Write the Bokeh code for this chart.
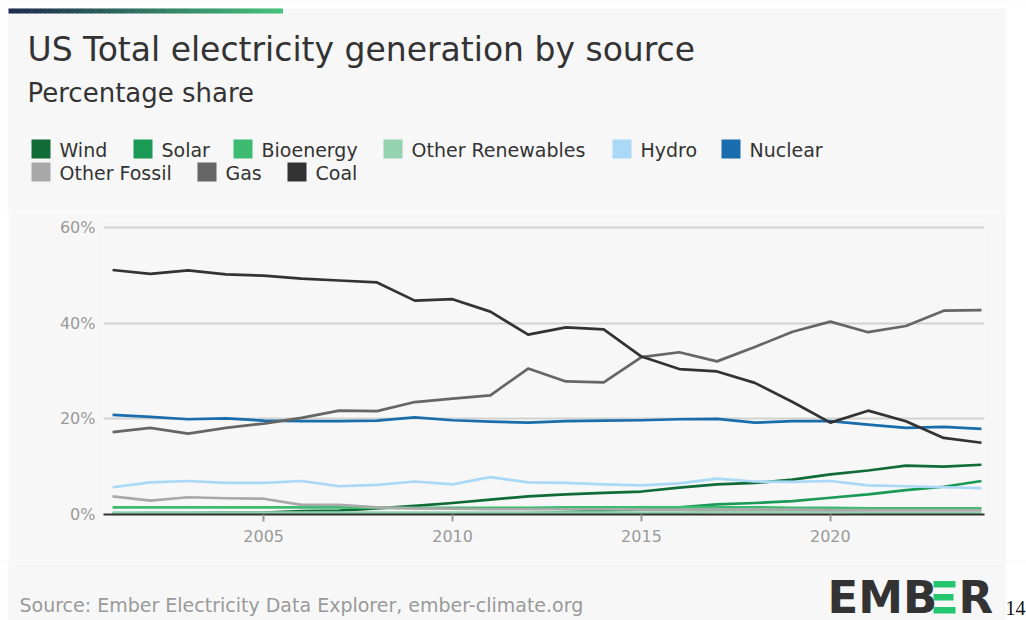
from bokeh.plotting import figure
from bokeh.layouts import column, row
from bokeh.models import Range1d, FixedTicker, PrintfTickFormatter, Label, Spacer
from bokeh.embed import file_html
from bokeh.resources import INLINE

# ---------------- data (percentage share) ----------------
years = list(range(2001, 2025))
wind = [0.2, 0.3, 0.3, 0.4, 0.4, 0.7, 0.8, 1.3, 1.8, 2.4, 3.1, 3.8, 4.2, 4.5, 4.8, 5.6, 6.3, 6.6, 7.3, 8.4, 9.2, 10.2, 10.0, 10.4]
solar = [0.0, 0.0, 0.0, 0.0, 0.0, 0.0, 0.0, 0.0, 0.0, 0.1, 0.1, 0.3, 0.5, 0.8, 1.0, 1.5, 2.1, 2.4, 2.8, 3.5, 4.2, 5.1, 5.8, 7.0]
bioenergy = [1.5, 1.5, 1.5, 1.5, 1.5, 1.5, 1.5, 1.4, 1.4, 1.4, 1.4, 1.4, 1.5, 1.5, 1.5, 1.5, 1.5, 1.5, 1.4, 1.4, 1.3, 1.3, 1.3, 1.3]
other_renewables = [0.4, 0.4, 0.4, 0.4, 0.4, 0.4, 0.4, 0.4, 0.4, 0.4, 0.4, 0.4, 0.4, 0.4, 0.4, 0.4, 0.5, 0.5, 0.5, 0.5, 0.4, 0.4, 0.4, 0.4]
hydro = [5.7, 6.7, 7.0, 6.6, 6.6, 7.0, 5.9, 6.2, 6.9, 6.3, 7.8, 6.7, 6.6, 6.3, 6.1, 6.5, 7.5, 6.9, 6.8, 7.0, 6.1, 5.9, 5.7, 5.5]
nuclear = [20.8, 20.4, 19.9, 20.1, 19.6, 19.5, 19.5, 19.6, 20.3, 19.7, 19.4, 19.2, 19.5, 19.6, 19.7, 19.9, 20.0, 19.2, 19.5, 19.5, 18.8, 18.1, 18.3, 17.9]
other_fossil = [3.8, 2.9, 3.6, 3.4, 3.3, 2.0, 2.0, 1.5, 1.3, 1.2, 1.1, 1.1, 1.1, 1.1, 1.0, 1.0, 1.0, 1.0, 1.0, 0.9, 0.9, 0.9, 0.9, 0.9]
gas = [17.2, 18.1, 16.9, 18.1, 19.0, 20.2, 21.7, 21.6, 23.5, 24.2, 24.9, 30.5, 27.8, 27.6, 32.9, 33.9, 32.0, 35.0, 38.2, 40.3, 38.1, 39.4, 42.6, 42.7]
coal = [51.1, 50.3, 51.0, 50.2, 49.9, 49.3, 48.9, 48.5, 44.7, 45.0, 42.4, 37.6, 39.1, 38.7, 33.0, 30.4, 29.9, 27.5, 23.5, 19.2, 21.7, 19.5, 16.0, 15.0]

series_names = ["Wind", "Solar", "Bioenergy", "Other Renewables", "Hydro", "Nuclear",
                "Other Fossil", "Gas", "Coal"]
series_values = [wind, solar, bioenergy, other_renewables, hydro, nuclear, other_fossil, gas, coal]
series_colors = ["#106b37", "#1b9a56", "#3dbb70", "#94d2b0", "#a9d9f6", "#1a6dac",
                 "#a9a9a9", "#666666", "#333333"]

x_ticks = [2005, 2010, 2015, 2020]
y_ticks = [0, 20, 40, 60]

title_text = "US Total electricity generation by source"
subtitle_text = "Percentage share"
source_text = "Source: Ember Electricity Data Explorer, ember-climate.org"

FONT = "DejaVu Sans"
BG = "#f7f7f7"
W = 1026


def canvas_fig(height, y0, y1):
    f = figure(width=W, height=height, x_range=Range1d(0, W), y_range=Range1d(y1, y0),
               x_axis_type=None, y_axis_type=None, output_backend="svg",
               toolbar_location=None, min_border=0)
    f.grid.visible = False
    f.outline_line_color = None
    f.background_fill_color = BG
    f.border_fill_color = BG
    # white page margins around the grey card
    f.quad(left=[0, 1006], right=[8, W], top=[y0, y0], bottom=[y1, y1],
           fill_color="white", line_color=None)
    return f


def lab(x, y, text, size, color, font=FONT, style="normal"):
    return Label(x=x, y=y, text=text, text_font=font, text_font_size=size,
                 text_font_style=style, text_color=color, text_baseline="middle")


# ---------------- header ----------------
H0 = 212
head = canvas_fig(H0, 0, H0)
head.quad(left=[0], right=[W], top=[0], bottom=[8], fill_color="white", line_color=None)


def lerp(c1, c2, t):
    a = [int(c1[i:i + 2], 16) for i in (1, 3, 5)]
    b = [int(c2[i:i + 2], 16) for i in (1, 3, 5)]
    return "#%02x%02x%02x" % tuple(round(a[k] + (b[k] - a[k]) * t) for k in range(3))


nseg = 60
gx0, gx1 = 8, 282
gl = [gx0 + (gx1 - gx0) * i / nseg for i in range(nseg)]
gr = [gx0 + (gx1 - gx0) * (i + 1) / nseg + 0.5 for i in range(nseg)]
gc = [lerp("#1d2a4d", "#45c27a", i / (nseg - 1)) for i in range(nseg)]
head.quad(left=gl, right=gr, top=8, bottom=13, fill_color=gc, line_color=None)

head.add_layout(lab(27, 48.5, title_text, "33px", "#333333"))
head.add_layout(lab(27, 92, subtitle_text, "26px", "#333333"))

legend_x = [31, 133, 233, 383, 612, 721, 31, 197, 287]
legend_row = [0, 0, 0, 0, 0, 0, 1, 1, 1]
sq_top = [139 + r * 23 for r in legend_row]
head.quad(left=legend_x, right=[x + 19 for x in legend_x], top=sq_top,
          bottom=[t + 19 for t in sq_top], fill_color=series_colors, line_color=None)
for name, lx, t in zip(series_names, legend_x, sq_top):
    head.add_layout(lab(lx + 28, t + 10, name, "19px", "#333333"))

# ---------------- main chart ----------------
MH = 348
p = figure(width=998, height=MH,
           x_range=Range1d(2000.76, 2024.08), y_range=Range1d(0, 61.44),
           output_backend="svg", toolbar_location=None,
           min_border_left=95, min_border_right=22,
           min_border_top=8, min_border_bottom=46)
p.border_fill_color = BG
p.background_fill_color = BG
p.outline_line_color = None

p.xaxis.ticker = FixedTicker(ticks=x_ticks)
p.xaxis.axis_line_color = "#333333"
p.xaxis.axis_line_width = 2
p.xaxis.major_tick_out = 7
p.xaxis.major_tick_in = 0
p.xaxis.major_tick_line_color = "#9a9a9a"
p.xaxis.major_tick_line_width = 2
p.xaxis.minor_tick_line_color = None
p.xaxis.major_label_standoff = 8
p.xaxis.major_label_text_font = FONT
p.xaxis.major_label_text_font_size = "16px"
p.xaxis.major_label_text_color = "#9a9a9a"

p.yaxis.ticker = FixedTicker(ticks=y_ticks)
p.yaxis.formatter = PrintfTickFormatter(format="%d%%")
p.yaxis.axis_line_color = None
p.yaxis.major_tick_line_color = None
p.yaxis.minor_tick_line_color = None
p.yaxis.major_tick_out = 0
p.yaxis.major_label_standoff = 8
p.yaxis.major_label_text_font = FONT
p.yaxis.major_label_text_font_size = "16px"
p.yaxis.major_label_text_color = "#9a9a9a"

p.xgrid.visible = False
p.ygrid.ticker = FixedTicker(ticks=[t for t in y_ticks if t > 0])
p.ygrid.grid_line_color = "#d2d2d2"
p.ygrid.grid_line_width = 2

for name, vals, col in zip(series_names, series_values, series_colors):
    p.line(years, vals, line_color=col, line_width=2.7, line_join="round")

# ---------------- footer ----------------
F0 = H0 + MH
FH = 620 - F0
foot = canvas_fig(FH, F0, 620)
foot.add_layout(lab(19, 604, source_text, "19px", "#9a9a9a"))
foot.add_layout(lab(827, 597, "EMB", "45px", "#333333", style="bold"))
foot.quad(left=[933, 933, 933], right=[955, 953, 955], top=[580.5, 593.5, 606.5],
          bottom=[587, 600, 613], fill_color="#24c66f", line_color=None)
foot.add_layout(lab(958, 597, "R", "45px", "#333333", style="bold"))
foot.add_layout(lab(1005, 607, "14", "20px", "#111111", font="Liberation Serif"))

layout = column(head, row(Spacer(width=8, height=MH), p, Spacer(width=20, height=MH), spacing=0),
                foot, spacing=0)

open("out.html", "w").write(file_html(layout, INLINE))
